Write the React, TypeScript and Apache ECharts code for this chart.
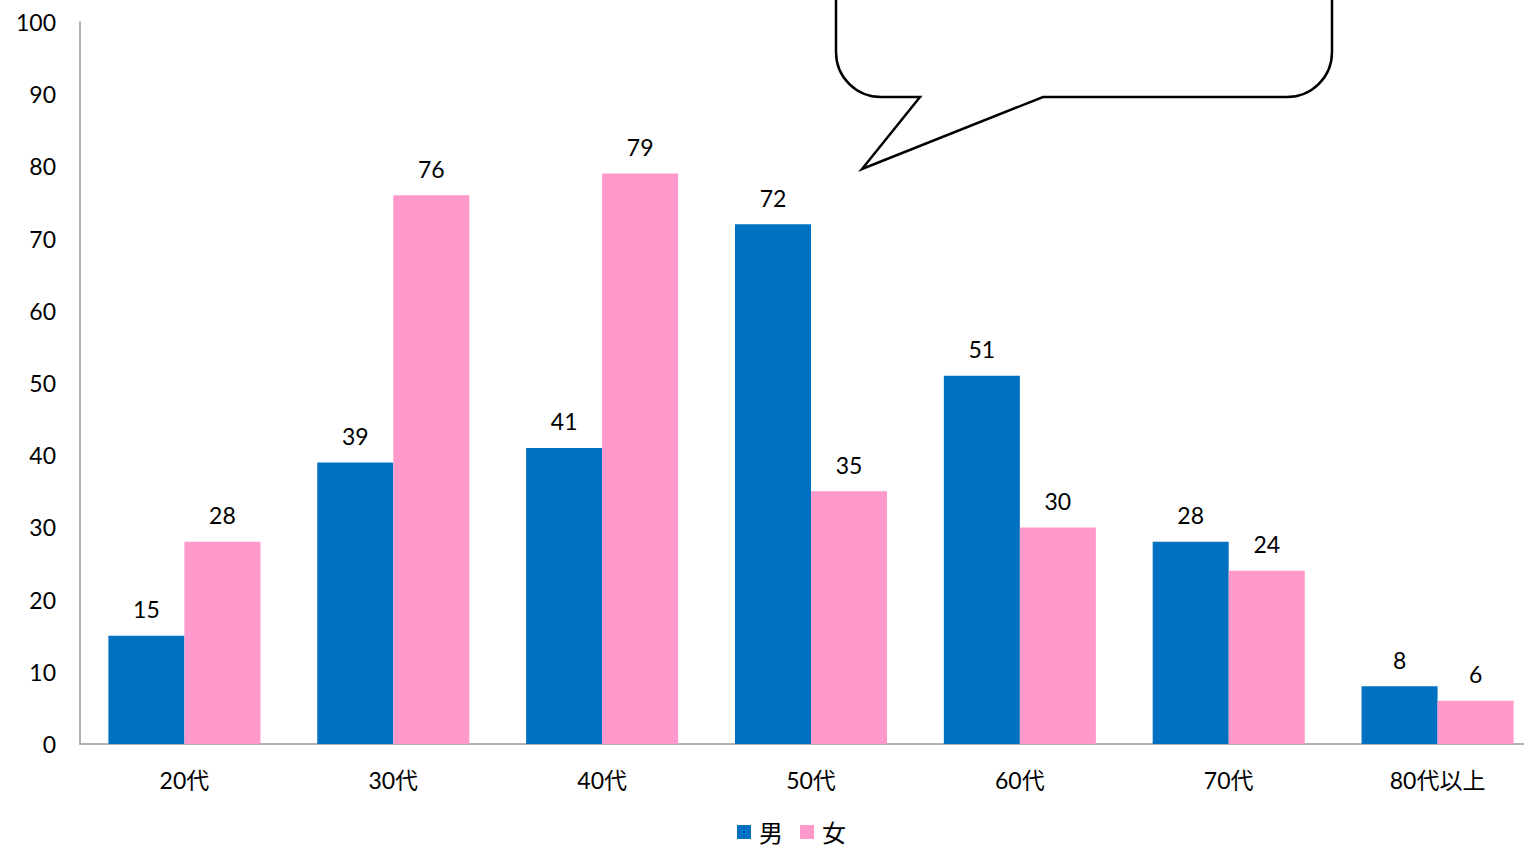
import React, { useEffect, useRef } from "react";
import * as echarts from "echarts";

const categories = ["20代", "30代", "40代", "50代", "60代", "70代", "80代以上"];
const maleValues = [15, 39, 41, 72, 51, 28, 8];
const femaleValues = [28, 76, 79, 35, 30, 24, 6];
const seriesNames = ["男", "女"];

const FONT = "Lato, 'Noto Sans CJK JP', sans-serif";

const bubblePath =
  "M836,-10 L836,52 C836,77 856,97 881,97 L920,97 L862,169 L1043,97 L1287,97 C1312,97 1332,77 1332,52 L1332,-10 Z";

let registered = false;

export default function App() {
  const ref = useRef<HTMLDivElement>(null);
  useEffect(() => {
    document.body.style.margin = "0";
    if (!registered) {
      echarts.graphic.registerShape("bubble", echarts.graphic.extendPath(bubblePath, {}) as any);
      registered = true;
    }
    const chart = echarts.init(ref.current!, null, { renderer: "svg" });
    const labelStyle = {
      show: true,
      position: "top" as const,
      distance: 15,
      fontSize: 23,
      color: "#000",
      fontFamily: FONT,
    };
    chart.setOption({
      animation: false,
      backgroundColor: "#fff",
      grid: { left: 80, right: 0, top: 22, bottom: 105, containLabel: false },
      legend: {
        bottom: 0,
        left: 732,
        itemWidth: 14,
        itemHeight: 14,
        itemGap: 17,
        icon: "rect",
        textStyle: { fontSize: 24, color: "#000", fontFamily: FONT, padding: [0, 0, 0, 3] },
        data: seriesNames,
      },
      xAxis: {
        type: "category",
        data: categories,
        axisLine: { show: true, lineStyle: { color: "#999", width: 1.5 } },
        axisTick: { show: false },
        axisLabel: { fontSize: 23, color: "#000", margin: 24, fontFamily: FONT },
      },
      yAxis: {
        type: "value",
        min: 0,
        max: 100,
        interval: 10,
        axisLine: { show: true, lineStyle: { color: "#999", width: 1.5 } },
        axisTick: { show: false },
        splitLine: { show: false },
        axisLabel: { fontSize: 23, color: "#000", margin: 24, fontFamily: FONT },
      },
      series: [
        {
          name: seriesNames[0],
          type: "bar",
          data: maleValues,
          barWidth: "36.4%",
          barGap: "0%",
          itemStyle: { color: "#0070C0" },
          label: labelStyle,
        },
        {
          name: seriesNames[1],
          type: "bar",
          data: femaleValues,
          barWidth: "36.4%",
          barGap: "0%",
          itemStyle: { color: "#FF99CC" },
          label: labelStyle,
        },
      ],
      graphic: [
        {
          type: "bubble",
          x: 0,
          y: 0,
          z: 100,
          style: { fill: "#fff", stroke: "#000", lineWidth: 2.5 },
        },
      ],
    });
    return () => chart.dispose();
  }, []);
  return (
    <div style={{ width: 1524, height: 849, overflow: "hidden" }}>
      <div ref={ref} style={{ width: 1542, height: 849 }} />
    </div>
  );
}
